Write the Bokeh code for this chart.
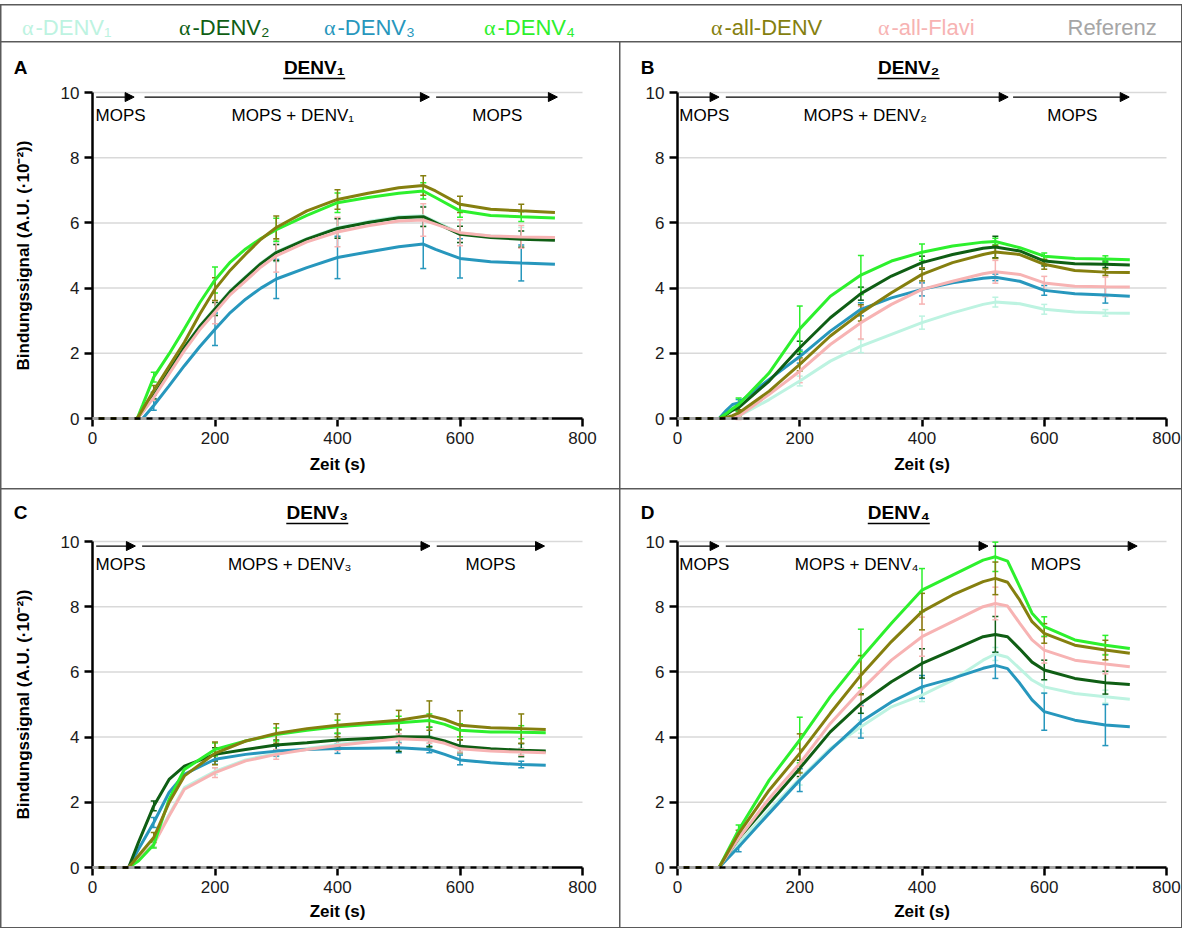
import numpy as np
from bokeh.plotting import figure
from bokeh.models import (Range1d, FixedTicker, Label, Arrow, NormalHead, Whisker,
                          TeeHead, ColumnDataSource)
from bokeh.layouts import column, row
from bokeh.embed import file_html
from bokeh.resources import INLINE
from bokeh.core.properties import value

FONT = "Liberation Sans"

# ---------------- data ----------------
keys = ["d1", "d2", "d3", "d4", "all", "flavi"]
legend_labels = ["-DENV₁", "-DENV₂", "-DENV₃", "-DENV₄", "-all-DENV", "-all-Flavi", "Referenz"]
colors = {"d1": "#bdf3e1", "d2": "#0f5e14", "d3": "#2797bd", "d4": "#2df02d",
          "all": "#857f0f", "flavi": "#f7b3b3", "ref": "#a6a6a6"}
draw_order = ["d1", "d3", "d2", "flavi", "d4", "all"]

ref_t = [0, 750]
ref_v = [0, 0]

# Panel A (DENV1)
tA = [0, 73, 82, 100, 125, 150, 175, 200, 225, 250, 275, 300, 350, 400, 450, 500, 540, 560, 600, 650, 700, 755]
A_d1 = [0, 0, 0.24, 0.72, 1.47, 2.20, 2.84, 3.38, 3.92, 4.35, 4.77, 5.11, 5.52, 5.85, 6.04, 6.19, 6.22, 6.04, 5.69, 5.60, 5.56, 5.54]
A_d2 = [0, 0, 0.22, 0.70, 1.45, 2.18, 2.82, 3.36, 3.90, 4.33, 4.75, 5.09, 5.50, 5.83, 6.01, 6.16, 6.19, 6.01, 5.65, 5.55, 5.50, 5.47]
A_d3 = [0, 0, 0.00, 0.40, 1.00, 1.62, 2.20, 2.74, 3.25, 3.66, 4.00, 4.28, 4.63, 4.94, 5.11, 5.27, 5.35, 5.19, 4.91, 4.81, 4.77, 4.73]
A_d4 = [0, 0, 0.42, 1.27, 1.98, 2.75, 3.55, 4.25, 4.80, 5.20, 5.52, 5.79, 6.23, 6.62, 6.78, 6.91, 6.98, 6.78, 6.37, 6.23, 6.19, 6.15]
A_all = [0, 0, 0.28, 0.86, 1.60, 2.34, 3.20, 3.97, 4.55, 5.04, 5.50, 5.86, 6.37, 6.72, 6.91, 7.08, 7.15, 6.98, 6.57, 6.42, 6.37, 6.32]
A_flavi = [0, 0, 0.20, 0.65, 1.37, 2.08, 2.72, 3.26, 3.80, 4.22, 4.65, 4.99, 5.42, 5.72, 5.91, 6.06, 6.09, 5.96, 5.70, 5.60, 5.57, 5.55]
eA_t = [100, 200, 300, 400, 540, 600, 700]
eA_d1 = [0.10, 0.20, 0.30, 0.30, 0.30, 0.30, 0.30]
eA_d2 = [0.10, 0.20, 0.25, 0.30, 0.30, 0.25, 0.25]
eA_d3 = [0.15, 0.50, 0.60, 0.65, 0.75, 0.60, 0.55]
eA_d4 = [0.15, 0.40, 0.35, 0.30, 0.25, 0.20, 0.15]
eA_all = [0.15, 0.35, 0.35, 0.30, 0.30, 0.25, 0.20]
eA_flavi = [0.10, 0.35, 0.50, 0.45, 0.50, 0.40, 0.35]

# Panel B (DENV2)
tB = [0, 68, 80, 90, 100, 150, 200, 250, 300, 350, 400, 450, 500, 520, 560, 600, 650, 700, 740]
B_d1 = [0, 0, 0, 0.02, 0.07, 0.58, 1.15, 1.76, 2.22, 2.58, 2.94, 3.24, 3.50, 3.57, 3.52, 3.35, 3.27, 3.24, 3.23]
B_d2 = [0, 0, 0.12, 0.25, 0.33, 1.15, 2.17, 3.09, 3.83, 4.37, 4.78, 5.03, 5.22, 5.26, 5.14, 4.83, 4.75, 4.73, 4.71]
B_d3 = [0, 0, 0.25, 0.43, 0.48, 1.20, 1.90, 2.68, 3.35, 3.70, 3.96, 4.16, 4.30, 4.33, 4.21, 3.93, 3.83, 3.79, 3.75]
B_d4 = [0, 0, 0.15, 0.30, 0.43, 1.40, 2.75, 3.75, 4.40, 4.83, 5.10, 5.29, 5.41, 5.43, 5.24, 4.98, 4.91, 4.89, 4.87]
B_all = [0, 0, 0.03, 0.09, 0.17, 0.84, 1.66, 2.53, 3.24, 3.86, 4.42, 4.78, 5.03, 5.11, 5.03, 4.73, 4.54, 4.49, 4.48]
B_flavi = [0, 0, 0, 0.02, 0.07, 0.74, 1.45, 2.27, 2.94, 3.50, 3.96, 4.21, 4.44, 4.50, 4.42, 4.16, 4.06, 4.04, 4.03]
eB_t = [100, 200, 300, 400, 520, 600, 700]
eB_d1 = [0.05, 0.15, 0.20, 0.20, 0.15, 0.15, 0.10]
eB_d2 = [0.10, 0.20, 0.20, 0.20, 0.33, 0.15, 0.10]
eB_d3 = [0.10, 0.20, 0.20, 0.20, 0.10, 0.15, 0.25]
eB_d4 = [0.20, 0.70, 0.60, 0.25, 0.10, 0.10, 0.10]
eB_all = [0.10, 0.20, 0.25, 0.20, 0.20, 0.15, 0.10]
eB_flavi = [0.10, 0.35, 0.50, 0.45, 0.35, 0.20, 0.30]

# Panel C (DENV3)
tC = [0, 59, 75, 100, 125, 150, 200, 250, 300, 350, 400, 450, 500, 550, 575, 600, 650, 700, 740]
C_d1 = [0, 0, 0.28, 0.74, 1.62, 2.45, 2.95, 3.30, 3.50, 3.65, 3.77, 3.88, 3.98, 3.94, 3.84, 3.67, 3.60, 3.57, 3.55]
C_d2 = [0, 0, 0.77, 1.89, 2.70, 3.11, 3.47, 3.62, 3.76, 3.83, 3.91, 3.96, 4.01, 4.00, 3.88, 3.72, 3.64, 3.60, 3.57]
C_d3 = [0, 0, 0.56, 1.38, 2.30, 2.86, 3.32, 3.47, 3.57, 3.62, 3.65, 3.66, 3.67, 3.62, 3.47, 3.30, 3.21, 3.16, 3.14]
C_d4 = [0, 0, 0.20, 0.70, 2.09, 3.01, 3.62, 3.88, 4.08, 4.21, 4.32, 4.39, 4.44, 4.51, 4.39, 4.21, 4.16, 4.15, 4.13]
C_all = [0, 0, 0.36, 0.92, 1.99, 2.81, 3.50, 3.88, 4.11, 4.26, 4.36, 4.44, 4.52, 4.66, 4.54, 4.36, 4.29, 4.26, 4.23]
C_flavi = [0, 0, 0.26, 0.71, 1.58, 2.40, 2.91, 3.27, 3.47, 3.62, 3.74, 3.85, 3.95, 3.91, 3.81, 3.64, 3.57, 3.54, 3.52]
eC_t = [100, 200, 300, 400, 500, 550, 600, 700]
eC_d1 = [0.10, 0.10, 0.10, 0.10, 0.10, 0.10, 0.10, 0.10]
eC_d2 = [0.15, 0.20, 0.15, 0.20, 0.45, 0.30, 0.20, 0.20]
eC_d3 = [0.15, 0.15, 0.15, 0.15, 0.15, 0.10, 0.15, 0.10]
eC_d4 = [0.10, 0.20, 0.20, 0.20, 0.20, 0.20, 0.20, 0.20]
eC_all = [0.15, 0.35, 0.30, 0.35, 0.30, 0.45, 0.45, 0.45]
eC_flavi = [0.10, 0.15, 0.15, 0.15, 0.15, 0.10, 0.10, 0.10]

# Panel D (DENV4)
tD = [0, 68, 100, 150, 200, 250, 300, 350, 400, 450, 500, 520, 540, 560, 580, 600, 650, 700, 740]
D_d1 = [0, 0, 0.74, 1.76, 2.73, 3.65, 4.32, 4.93, 5.29, 5.75, 6.36, 6.55, 6.45, 6.10, 5.75, 5.54, 5.34, 5.24, 5.16]
D_d2 = [0, 0, 0.89, 1.96, 3.04, 4.16, 5.03, 5.70, 6.26, 6.67, 7.08, 7.15, 7.08, 6.70, 6.30, 6.06, 5.80, 5.67, 5.61]
D_d3 = [0, 0, 0.63, 1.66, 2.68, 3.60, 4.47, 5.08, 5.54, 5.80, 6.11, 6.20, 6.10, 5.65, 5.14, 4.78, 4.52, 4.37, 4.32]
D_d4 = [0, 0, 1.15, 2.68, 3.91, 5.24, 6.41, 7.49, 8.51, 8.97, 9.43, 9.53, 9.40, 8.61, 7.80, 7.39, 6.98, 6.82, 6.72]
D_all = [0, 0, 1.04, 2.37, 3.50, 4.73, 5.90, 6.93, 7.85, 8.36, 8.77, 8.87, 8.75, 8.20, 7.54, 7.18, 6.82, 6.67, 6.57]
D_flavi = [0, 0, 0.89, 2.12, 3.19, 4.42, 5.44, 6.36, 7.08, 7.54, 8.00, 8.10, 8.02, 7.49, 6.98, 6.67, 6.36, 6.24, 6.16]
eD_t = [100, 200, 300, 400, 520, 600, 700]
eD_d1 = [0.10, 0.20, 0.20, 0.20, 0.20, 0.20, 0.20]
eD_d2 = [0.10, 0.25, 0.30, 0.45, 0.55, 0.30, 0.35]
eD_d3 = [0.15, 0.35, 0.50, 0.35, 0.40, 0.57, 0.63]
eD_d4 = [0.15, 0.70, 0.90, 0.66, 0.45, 0.30, 0.30]
eD_all = [0.10, 0.60, 0.60, 0.56, 0.50, 0.30, 0.30]
eD_flavi = [0.10, 0.45, 0.50, 0.60, 0.50, 0.40, 0.30]

x_ticks = [0, 200, 400, 600, 800]
y_ticks = [0, 2, 4, 6, 8, 10]
X_MAX, Y_MAX = 800, 10


def make_panel(letter, title, mid_label, times, vals, err_t, errs, arrows, label_x, title_t,
               width, height, left, right, top, bottom, letter_px, title_px, line_px,
               ylabel, xlab_standoff):
    # pixel layout -> ranges (frame covers the whole panel; axes are pinned at 0)
    fw = width - left - right
    fh = height - top - bottom
    sx = fw / X_MAX
    sy = fh / Y_MAX
    xr = Range1d(-left / sx, X_MAX + right / sx)
    yr = Range1d(-bottom / sy, Y_MAX + top / sy)
    p = figure(width=width, height=height, x_range=xr, y_range=yr,
               output_backend="svg", toolbar_location=None, min_border=0,
               background_fill_color="white", border_fill_color="white", outline_line_color=None)
    p.grid.visible = False
    gy = y_ticks[1:]
    p.segment(x0=[0] * len(gy), x1=[X_MAX] * len(gy), y0=gy, y1=gy,
              line_color="#d9d9d9", line_width=1.5, level="underlay")

    p.xaxis.ticker = FixedTicker(ticks=x_ticks)
    p.yaxis.ticker = FixedTicker(ticks=y_ticks)
    p.xaxis.bounds = (0, X_MAX)
    p.yaxis.bounds = (0, Y_MAX)
    p.xaxis.fixed_location = 0
    p.yaxis.fixed_location = 0
    for ax in (p.xaxis[0], p.yaxis[0]):
        ax.axis_line_width = 2.5
        ax.axis_line_color = "black"
        ax.major_tick_line_width = 2.5
        ax.major_tick_out = 8
        ax.major_tick_in = 0
        ax.minor_tick_line_color = None
        ax.major_label_text_font = FONT
        ax.major_label_text_font_size = "17px"
        ax.major_label_text_color = "#1a1a1a"
        ax.major_label_standoff = 5
        ax.axis_label_text_font = FONT
        ax.axis_label_text_font_size = "17px"
        ax.axis_label_text_font_style = "bold"
        ax.axis_label_text_color = "black"
    p.xaxis.axis_label = "Zeit (s)"
    p.xaxis.axis_label_standoff = xlab_standoff
    if ylabel:
        p.yaxis.axis_label = "Bindungssignal (A.U. (·10⁻²))"
        p.yaxis.axis_label_standoff = 25

    p.line(ref_t, ref_v, line_color=colors["ref"], line_width=3, line_dash="6 6",
           level="overlay")
    for k in draw_order:
        p.line(times, vals[k], line_color=colors[k], line_width=3)
        centers = [vals[k][times.index(t)] for t in err_t]
        src = ColumnDataSource(dict(t=err_t,
                                    u=[c + e for c, e in zip(centers, errs[k])],
                                    l=[c - e for c, e in zip(centers, errs[k])]))
        p.add_layout(Whisker(base="t", upper="u", lower="l", source=src,
                             line_color=colors[k], line_width=1.5,
                             upper_head=TeeHead(size=6, line_color=colors[k], line_width=1.5),
                             lower_head=TeeHead(size=6, line_color=colors[k], line_width=1.5)))

    # phase arrows and labels
    for (x0, x1) in arrows:
        p.add_layout(Arrow(x_start=x0, y_start=9.86, x_end=x1, y_end=9.86, line_width=1.3,
                           line_color="black",
                           end=NormalHead(size=9, fill_color="black", line_color="black")))
    texts = ["MOPS", mid_label, "MOPS"]
    aligns = ["left", "center", "center"]
    for tx, xx, al in zip(texts, label_x, aligns):
        p.add_layout(Label(x=xx, y=9.28, text=tx, text_align=al, text_baseline="middle",
                           text_font=FONT, text_font_size="17px", text_color="black"))

    # panel letter and underlined title
    y_title = Y_MAX + (top - title_px) / sy
    y_line = Y_MAX + (top - line_px) / sy
    p.add_layout(Label(x=(letter_px - left) / sx, y=y_title, text=letter, text_align="center",
                       text_baseline="middle", text_font=FONT, text_font_size="19px",
                       text_font_style="bold", text_color="black"))
    p.add_layout(Label(x=title_t, y=y_title, text=title, text_align="center",
                       text_baseline="middle", text_font=FONT, text_font_size="19px",
                       text_font_style="bold", text_color="black"))
    half = 31 / sx
    p.add_layout(Arrow(x_start=title_t - half, y_start=y_line, x_end=title_t + half, y_end=y_line,
                       line_width=1.5, line_color="black", end=None))
    return p


def pack(prefix):
    g = globals()
    return {k: g[f"{prefix}_{k}"] for k in keys}


WL, WR = 618, 561
LL, RL = 91, 37
LR, RR = 57, 15
H1, H2 = 446, 438

pA = make_panel("A", "DENV₁", "MOPS + DENV₁", tA, pack("A"), eA_t, pack("eA"),
                [(6, 68), (85, 550), (561, 759)], [5, 327, 661], 362,
                WL, H1, LL, RL, 50, 70, 19, 25, 36, True, 8)
pB = make_panel("B", "DENV₂", "MOPS + DENV₂", tB, pack("B"), eB_t, pack("eB"),
                [(3, 68), (79, 541), (549, 739)], [3, 307, 646], 378,
                WR, H1, LR, RR, 50, 70, 27, 25, 36, False, 8)
pC = make_panel("C", "DENV₃", "MOPS + DENV₃", tC, pack("C"), eC_t, pack("eC"),
                [(6, 70), (81, 551), (562, 738)], [5, 322, 650], 367,
                WL, H2, LL, RL, 52, 60, 19, 23, 34, True, 6)
pD = make_panel("D", "DENV₄", "MOPS + DENV₄", tD, pack("D"), eD_t, pack("eD"),
                [(3, 68), (79, 508), (516, 752)], [3, 293, 619], 362,
                WR, H2, LR, RR, 52, 60, 27, 23, 34, False, 6)

# ---------------- legend row ----------------
leg = figure(width=1180, height=36, x_range=Range1d(0, 1180), y_range=Range1d(0, 36),
             output_backend="svg", toolbar_location=None, x_axis_location=None,
             y_axis_location=None, min_border=0, outline_line_color=None,
             background_fill_color="white", border_fill_color="white")
leg.grid.visible = False
split_x = [34, 191, 336, 496, 723, 890, 1066]
leg_colors = [colors[k] for k in keys] + [colors["ref"]]
alpha_src = ColumnDataSource(dict(x=[s - 2 for s in split_x[:6]], y=[14] * 6,
                                  text=["α"] * 6, c=leg_colors[:6]))
leg.text(x="x", y="y", text="text", text_color="c", source=alpha_src,
         text_font=value("Liberation Serif"), text_font_size="22px",
         text_align="right", text_baseline="middle")
name_src = ColumnDataSource(dict(x=split_x, y=[14] * 7, text=legend_labels, c=leg_colors))
leg.text(x="x", y="y", text="text", text_color="c", source=name_src,
         text_font=value(FONT), text_font_size="22px",
         text_align="left", text_baseline="middle")

layout = column(leg, row(pA, pB, spacing=1), row(pC, pD, spacing=1), spacing=1,
                styles={"background-color": "#5a5a5a", "padding": "1px", "margin-top": "4px"})

open("out.html", "w").write(file_html(layout, INLINE))
